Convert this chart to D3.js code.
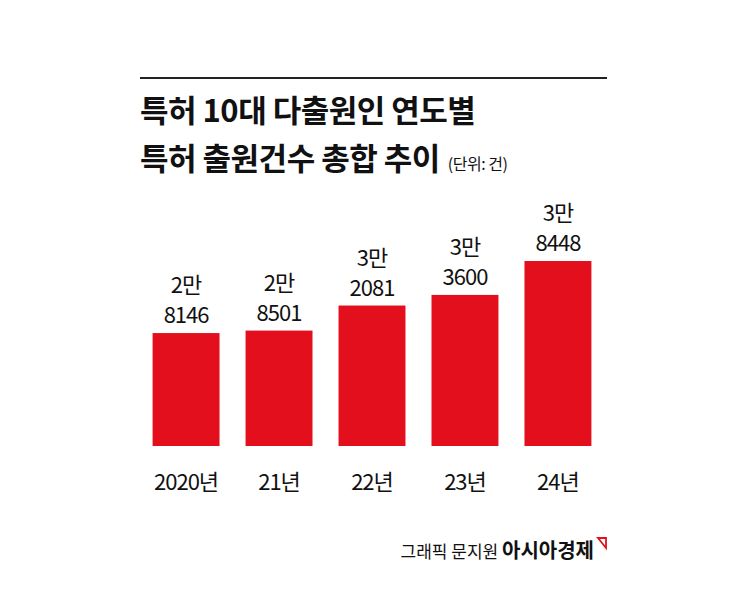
<!DOCTYPE html>
<html><head><meta charset="utf-8">
<script src="https://cdn.jsdelivr.net/npm/d3@7"></script>
<style>body{margin:0;background:#fff}</style></head>
<body><svg></svg>
<script>
const years = ["2020년", "21년", "22년", "23년", "24년"];
const values = [28146, 28501, 32081, 33600, 38448];
const manLabels = ["2만", "2만", "3만", "3만", "3만"];
const restLabels = ["8146", "8501", "2081", "3600", "8448"];

const width = 745, height = 596;
const font = "'Noto Sans CJK KR', sans-serif";
const svg = d3.select("svg").attr("width", width).attr("height", height);

svg.append("line").attr("x1", 140).attr("x2", 607).attr("y1", 78).attr("y2", 78)
    .attr("stroke", "#222").attr("stroke-width", 2);

svg.append("text").attr("x", 140).attr("y", 122).attr("font-family", font)
    .attr("font-weight", 700).attr("font-size", 31).attr("fill", "#111").attr("letter-spacing", -0.5)
    .text("특허 10대 다출원인 연도별");
const t2 = svg.append("text").attr("x", 140).attr("y", 170).attr("font-family", font)
    .attr("font-weight", 700).attr("font-size", 31).attr("fill", "#111").attr("letter-spacing", -0.5);
t2.append("tspan").text("특허 출원건수 총합 추이");
t2.append("tspan").attr("font-size", 16).attr("font-weight", 400).attr("dx", 8).text("(단위: 건)");

const x = d3.scaleBand().domain(years).range([134, 610]).paddingInner(0.28).paddingOuter(0.2);
const y = d3.scaleLinear().domain([12000, 38448]).range([446, 261]);

svg.selectAll("rect.bar").data(values).join("rect")
    .attr("x", (d, i) => x(years[i])).attr("width", x.bandwidth())
    .attr("y", d => y(d)).attr("height", d => 446 - y(d))
    .attr("fill", "#e30f1d");

const lbl = svg.selectAll("g.lbl").data(values).join("g")
    .attr("transform", (d, i) => `translate(${x(years[i]) + x.bandwidth() / 2},${y(d)})`)
    .attr("font-family", font).attr("font-size", 22).attr("text-anchor", "middle")
    .attr("fill", "#111").attr("letter-spacing", -1);
lbl.append("text").attr("y", -40).text((d, i) => manLabels[i]);
lbl.append("text").attr("y", -10).text((d, i) => restLabels[i]);

svg.selectAll("text.xl").data(years).join("text")
    .attr("x", d => x(d) + x.bandwidth() / 2).attr("y", 490)
    .attr("text-anchor", "middle").attr("font-family", font).attr("font-size", 22)
    .attr("fill", "#111").attr("letter-spacing", -1).text(d => d);

const ft = svg.append("text").attr("x", 594).attr("y", 558).attr("text-anchor", "end")
    .attr("font-family", font).attr("fill", "#111");
ft.append("tspan").attr("font-size", 17).text("그래픽 문지원 ");
ft.append("tspan").attr("font-size", 20).attr("font-weight", 700).text("아시아경제");
svg.append("path").attr("d", "M598,538 L606,538 L606,548 Z")
    .attr("fill", "none").attr("stroke", "#e30f1d").attr("stroke-width", 1.8);
</script></body></html>
